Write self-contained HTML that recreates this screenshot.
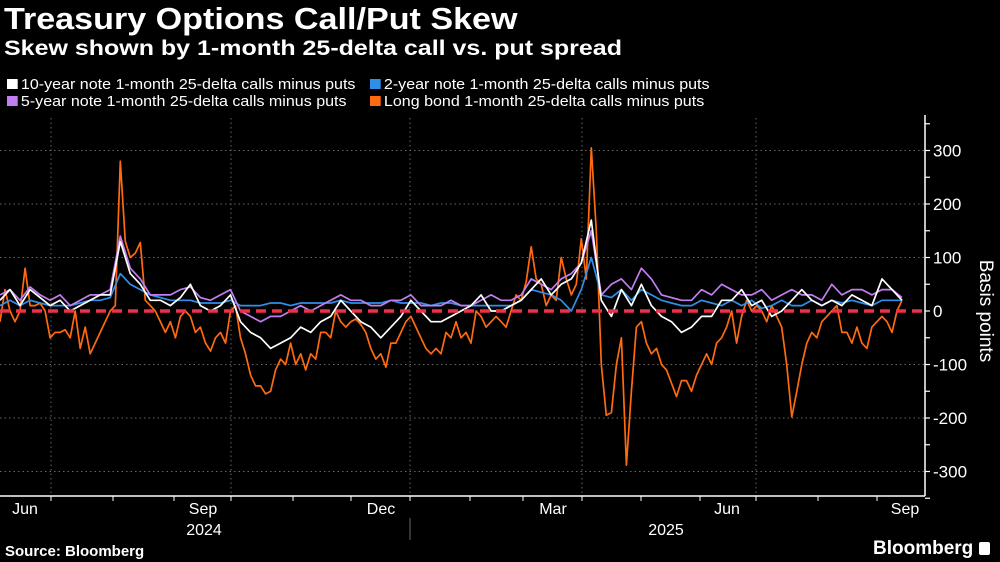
<!DOCTYPE html>
<html><head><meta charset="utf-8">
<style>
html,body{margin:0;padding:0;background:#000;}
body{width:1000px;height:562px;overflow:hidden;position:relative;font-family:"Liberation Sans",sans-serif;color:#fff;}
.t{position:absolute;white-space:nowrap;transform-origin:0 0;}
#title{left:4px;top:1px;font-size:31px;font-weight:bold;transform:scaleX(1.1);}
#sub{left:4px;top:37px;font-size:21px;font-weight:bold;transform:scaleX(1.19);}
.leg{font-size:15px;color:#fff;transform:scaleX(1.07);}
.sw{display:inline-block;width:10px;height:10px;margin-right:3px;vertical-align:0px;}
</style></head><body>
<div class="t" id="title">Treasury Options Call/Put Skew</div>
<div class="t" id="sub">Skew shown by 1-month 25-delta call vs. put spread</div>
<div class="t leg" style="left:7px;top:76px"><span class="sw" style="background:#fff"></span>10-year note 1-month 25-delta calls minus puts</div>
<div class="t leg" style="left:370px;top:76px"><span class="sw" style="background:#2f8fe8"></span>2-year note 1-month 25-delta calls minus puts</div>
<div class="t leg" style="left:7px;top:93px"><span class="sw" style="background:#c27ef0"></span>5-year note 1-month 25-delta calls minus puts</div>
<div class="t leg" style="left:370px;top:93px"><span class="sw" style="background:#ff6a10"></span>Long bond 1-month 25-delta calls minus puts</div>
<svg id="chart" width="1000" height="562" style="position:absolute;left:0;top:0"></svg>
<div class="t" style="left:5px;top:543px;font-size:15px;font-weight:bold">Source: Bloomberg</div>
<div class="t" style="left:873px;top:538px;font-size:19px;font-weight:bold">Bloomberg <span style="display:inline-block;width:11px;height:13px;background:#fff;border-radius:2px;vertical-align:-1px"></span></div>
<script>
const yTicks=[300,200,100,0,-100,-200,-300];
const monthLabels=["Jun","Sep","Dec","Mar","Jun","Sep"];
const yearLabels=["2024","2025"];
const orange=[-20,40,0,-20,0,80,10,10,15,0,
-50,-40,-40,-35,-50,0,-70,-30,-80,-60,
-40,-20,0,10,280,130,100,108,128,20,
10,0,-20,-40,-20,-50,-10,0,-10,-40,
-30,-60,-75,-50,-40,-60,0,10,-50,-80,
-120,-140,-140,-155,-150,-110,-90,-100,-60,-100,
-80,-110,-80,-90,-40,-40,-50,0,-20,-30,
-20,-15,-25,-40,-70,-90,-80,-105,-60,-60,
-40,-20,-10,-30,-50,-70,-80,-70,-80,-40,
-50,-20,-50,-40,-60,0,-10,-30,-20,-10,
-20,-30,0,30,20,55,120,60,50,10,
30,20,100,60,30,50,135,60,305,150,
-100,-195,-190,-100,-50,-288,-150,-30,-20,-60,
-80,-70,-100,-110,-135,-160,-130,-130,-150,-120,
-100,-80,-100,-60,-50,-30,0,-60,-10,20,
0,10,0,-20,10,-10,-30,-100,-198,-150,
-100,-60,-40,-50,-20,-10,0,10,-40,-40,
-60,-30,-60,-70,-30,-20,-10,-20,-40,0,20];
const white=[20,40,10,40,25,10,20,0,10,20,
30,30,130,70,50,20,20,10,25,50,
10,0,10,30,-20,-40,-50,-70,-60,-50,
-30,-40,-20,-10,20,0,-20,-30,-50,-30,
-10,20,0,-20,-20,-10,0,10,30,0,
0,10,20,40,60,30,50,60,90,170,
20,-10,40,10,50,10,-10,-20,-40,-30,
-10,-10,20,20,40,10,20,-10,0,20,
40,20,10,20,10,30,20,10,60,40,20];
const purple=[30,40,20,45,30,20,30,10,20,30,
30,40,140,80,60,30,30,30,40,45,
25,20,30,40,0,-10,-20,-10,-10,0,
10,0,10,20,30,20,20,10,10,20,
20,30,10,10,10,20,10,10,20,30,
20,20,30,60,50,40,60,70,90,150,
30,50,60,40,80,60,30,25,20,20,
40,30,50,40,30,30,40,20,30,40,
30,30,20,50,30,40,40,30,40,40,25];
const blue=[10,20,10,20,15,10,10,10,15,20,
20,25,70,50,40,30,25,20,20,20,
15,15,15,20,10,10,10,15,15,10,
15,15,15,15,20,15,15,15,15,20,
15,15,15,10,15,15,10,10,10,10,
10,10,20,40,35,30,20,0,40,100,
30,25,40,20,40,30,20,15,10,10,
20,15,10,20,10,20,5,10,20,10,
10,20,10,20,15,20,15,10,20,20,20];

const svg=document.getElementById('chart');
const NS='http://www.w3.org/2000/svg';
const X0=0,X1=902,AX=925,Y0=311,PPU=0.535,AXB=496;
const FF='"Liberation Sans",sans-serif';
function yS(v){return Y0-v*PPU;}
function xS(i,n){return X0+(X1-X0)*i/(n-1);}
function mk(tag,attrs){const e=document.createElementNS(NS,tag);for(const k in attrs)e.setAttribute(k,attrs[k]);svg.appendChild(e);return e;}

yTicks.forEach(v=>{
  if(v!==0){const g=mk('line',{x1:0,x2:AX,y1:yS(v),y2:yS(v),stroke:'#666','stroke-width':1,'stroke-dasharray':'1.5,3'});
  
  }
});
[51,231,410,582,756].forEach(x=>{
  const g=mk('line',{x1:x,x2:x,y1:118,y2:AXB,stroke:'#666','stroke-width':1,'stroke-dasharray':'1.5,3'});
  
  
});
const ya=mk('line',{x1:AX,x2:AX,y1:115,y2:AXB,stroke:'#fff','stroke-width':1.5});


const xa=mk('line',{x1:0,x2:AX,y1:AXB,y2:AXB,stroke:'#fff','stroke-width':1.5});


for(let v=-350;v<=350;v+=50){
  const t=mk('line',{x1:AX,x2:AX+5,y1:yS(v),y2:yS(v),stroke:'#fff','stroke-width':1.2});
  
  
}
yTicks.forEach(v=>{
  const t=mk('text',{x:AX+8,y:yS(v)+6,fill:'#fff','font-size':17,'font-family':FF});
  t.textContent=(v<0?'-':'')+Math.abs(v);
  
  
});
const yt=mk('text',{x:980,y:311,fill:'#fff','font-size':19,'text-anchor':'middle',transform:'rotate(90 980 311)','font-family':FF});
yt.textContent='Basis points';


[51,113,174,231,293,351,410,470,523,582,641,700,756,818,877].forEach(x=>{
  const t=mk('line',{x1:x,x2:x,y1:AXB,y2:AXB+5,stroke:'#fff','stroke-width':1});
  
  
});
const mPos=[25,203,381,553,727,905];
monthLabels.forEach((m,i)=>{
  const t=mk('text',{x:mPos[i],y:514,fill:'#fff','font-size':16,'text-anchor':'middle','font-family':FF});
  t.textContent=m;
  
  
});
const yrPos=[204,666];
yearLabels.forEach((m,i)=>{
  const t=mk('text',{x:yrPos[i],y:535,fill:'#fff','font-size':16,'text-anchor':'middle','font-family':FF});
  t.textContent=m;
  
  
});
const yd=mk('line',{x1:410,x2:410,y1:518,y2:540,stroke:'#666','stroke-width':1});



function line(arr,color,name,w){
  const d=arr.map((v,i)=>(i?'L':'M')+xS(i,arr.length).toFixed(1)+','+yS(v).toFixed(1)).join('');
  const p=mk('path',{d:d,fill:'none',stroke:color,'stroke-width':w,'stroke-linejoin':'round'});
  
  
}
line(orange,'#ff6a10','long-bond-line',1.7);
line(blue,'#2f8fe8','2-year-line',1.7);
line(purple,'#c27ef0','5-year-line',1.7);
line(white,'#ffffff','10-year-line',1.7);
const z=mk('line',{x1:0,x2:AX,y1:yS(0),y2:yS(0),stroke:'#f0304a','stroke-width':3.5,'stroke-dasharray':'10,6'});


</script>
</body></html>
